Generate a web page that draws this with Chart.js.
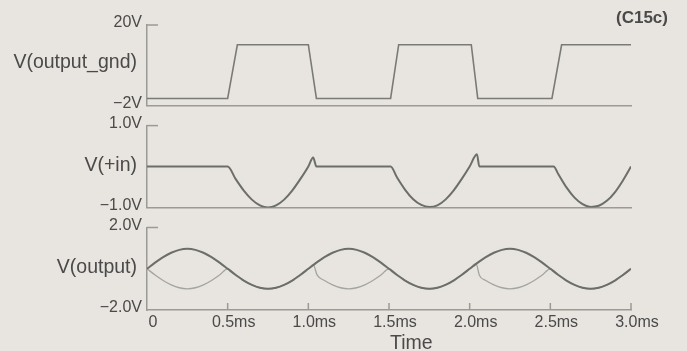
<!DOCTYPE html>
<html>
<head>
<meta charset="utf-8">
<script src="https://cdn.jsdelivr.net/npm/chart.js@4.4.1/dist/chart.umd.min.js"></script>
<style>
  body { margin: 0; background: #e8e4df; }
  #wrap { position: relative; width: 687px; height: 351px; overflow: hidden; background: #e8e4df;
          font-family: 'Liberation Sans', Arial, sans-serif; color: #4a4a4a; }
  canvas { position: absolute; left: 0; }
  .ylab { position: absolute; right: 550px; font-size: 19.5px; line-height: 22px; white-space: nowrap; }
  .note { position: absolute; left: 616px; top: 8px; font-size: 17px; font-weight: bold; line-height: 20px; }
  .xtitle { position: absolute; left: 390px; top: 331px; font-size: 19.5px; line-height: 22px; }
</style>
</head>
<body>
<div id="wrap">
  <canvas id="c1" width="687" height="120" style="top:0px"></canvas>
  <canvas id="c2" width="687" height="111" style="top:111px"></canvas>
  <canvas id="c3" width="687" height="138" style="top:213px"></canvas>
  <div class="ylab" style="top:50px">V(output_gnd)</div>
  <div class="ylab" style="top:153px">V(+in)</div>
  <div class="ylab" style="top:255px">V(output)</div>
  <div class="note">(C15c)</div>
  <div class="xtitle">Time</div>
</div>
<script>
// datos (tiempo en ms, tension en V)
const gndTime = [0, 0.50, 0.56, 1.00, 1.05, 1.51, 1.56, 2.01, 2.05, 2.51, 2.57, 3.00];
const gndVolt = [-0.1, -0.1, 14.6, 14.6, -0.1, -0.1, 14.6, 14.6, -0.1, -0.1, 14.6, 14.6];

const inTime = [0, 0.50, 0.55, 0.60, 0.65, 0.70, 0.75, 0.80, 0.85, 0.90, 0.95, 1.00, 1.03, 1.05,
                1.51, 1.55, 1.60, 1.65, 1.70, 1.75, 1.80, 1.85, 1.90, 1.95, 2.00, 2.045, 2.06,
                2.52, 2.55, 2.60, 2.65, 2.70, 2.75, 2.80, 2.85, 2.90, 2.95, 3.00];
const inVolt = [0, 0, -0.31, -0.59, -0.81, -0.95, -1.0, -0.95, -0.81, -0.59, -0.31, 0, 0.22, 0,
                0, -0.27, -0.57, -0.80, -0.94, -0.99, -0.95, -0.81, -0.59, -0.31, 0, 0.30, 0,
                0, -0.19, -0.51, -0.76, -0.92, -0.99, -0.96, -0.84, -0.63, -0.34, 0];

const outTime = [0, 0.05, 0.10, 0.15, 0.20, 0.25, 0.30, 0.35, 0.40, 0.45,
                 0.50, 0.55, 0.60, 0.65, 0.70, 0.75, 0.80, 0.85, 0.90, 0.95,
                 1.00, 1.05, 1.10, 1.15, 1.20, 1.25, 1.30, 1.35, 1.40, 1.45,
                 1.50, 1.55, 1.60, 1.65, 1.70, 1.75, 1.80, 1.85, 1.90, 1.95,
                 2.00, 2.05, 2.10, 2.15, 2.20, 2.25, 2.30, 2.35, 2.40, 2.45,
                 2.50, 2.55, 2.60, 2.65, 2.70, 2.75, 2.80, 2.85, 2.90, 2.95, 3.00];
const outVolt = [0, 0.30, 0.57, 0.78, 0.92, 0.97, 0.92, 0.78, 0.57, 0.30,
                 0, -0.30, -0.57, -0.78, -0.92, -0.97, -0.92, -0.78, -0.57, -0.30,
                 0, 0.30, 0.57, 0.78, 0.92, 0.97, 0.92, 0.78, 0.57, 0.30,
                 0, -0.30, -0.57, -0.78, -0.92, -0.97, -0.92, -0.78, -0.57, -0.30,
                 0, 0.30, 0.57, 0.78, 0.92, 0.97, 0.92, 0.78, 0.57, 0.30,
                 0, -0.30, -0.57, -0.78, -0.92, -0.97, -0.92, -0.78, -0.57, -0.30, 0];

// la otra traza (mas clara) de V(output)
const out2Time = [0, 0.05, 0.10, 0.15, 0.20, 0.25, 0.30, 0.35, 0.40, 0.45,
                  0.50, 0.55, 0.60, 0.65, 0.70, 0.75, 0.80, 0.85, 0.90, 0.95,
                  1.00, 1.03, 1.055, 1.10, 1.15, 1.20, 1.25, 1.30, 1.35, 1.40, 1.45,
                  1.50, 1.55, 1.60, 1.65, 1.70, 1.75, 1.80, 1.85, 1.90, 1.95,
                  2.00, 2.04, 2.06, 2.10, 2.15, 2.20, 2.25, 2.30, 2.35, 2.40, 2.45,
                  2.50, 2.55, 2.60, 2.65, 2.70, 2.75, 2.80, 2.85, 2.90, 2.95, 3.00];
const out2Volt = [0, -0.30, -0.57, -0.78, -0.92, -0.97, -0.92, -0.78, -0.57, -0.30,
                  0, -0.30, -0.57, -0.78, -0.92, -0.97, -0.92, -0.78, -0.57, -0.30,
                  0, 0.20, -0.31, -0.57, -0.78, -0.92, -0.97, -0.92, -0.78, -0.57, -0.30,
                  0, -0.30, -0.57, -0.78, -0.92, -0.97, -0.92, -0.78, -0.57, -0.30,
                  0, 0.25, -0.31, -0.57, -0.78, -0.92, -0.97, -0.92, -0.78, -0.57, -0.30,
                  0, -0.30, -0.57, -0.78, -0.92, -0.97, -0.92, -0.78, -0.57, -0.30, 0];

const timeTicks = ['0', '0.5ms', '1.0ms', '1.5ms', '2.0ms', '2.5ms', '3.0ms'];
const gndTicks = ['\u22122V', '20V'];
const inTicks = ['\u22121.0V', '1.0V'];
const outTicks = ['\u22122.0V', '2.0V'];

const axisColor = '#9a9a96';
const textColor = '#4a4a4a';
const fontFam = "'Liberation Sans', Arial, sans-serif";

function pts(xs, ys) {
  return xs.map((x, i) => ({ x: x, y: ys[i] }));
}

// marcas cortas hacia adentro (arriba del eje y, y en el eje x del ultimo panel)
const tickMarks = {
  id: 'tickMarks',
  afterDraw(chart, args, opts) {
    const { ctx, chartArea, scales } = chart;
    ctx.save();
    ctx.strokeStyle = axisColor;
    ctx.lineWidth = 1.5;
    ctx.beginPath();
    const yTop = scales.y.getPixelForValue(scales.y.max);
    ctx.moveTo(chartArea.left, yTop);
    ctx.lineTo(chartArea.left + 11, yTop);
    if (opts.xTicks) {
      scales.x.ticks.forEach(t => {
        if (t.value <= 0) return;
        const px = scales.x.getPixelForValue(t.value);
        ctx.moveTo(px, chartArea.bottom);
        ctx.lineTo(px, chartArea.bottom - 7);
      });
    }
    ctx.stroke();
    ctx.restore();
  }
};

function panel(id, datasets, yMin, yMax, yLabels, showX, pad) {
  return new Chart(document.getElementById(id), {
    type: 'line',
    data: { datasets: datasets },
    plugins: [tickMarks],
    options: {
      responsive: false,
      animation: false,
      events: [],
      layout: { padding: { left: 0, right: 56, top: pad.top, bottom: pad.bottom } },
      elements: { point: { radius: 0 } },
      plugins: {
        legend: { display: false },
        tooltip: { enabled: false },
        tickMarks: { xTicks: showX }
      },
      scales: {
        x: {
          type: 'linear',
          min: 0,
          max: 3,
          grid: { display: false, drawTicks: false, tickLength: 0 },
          border: { display: true, color: axisColor, width: 1.5 },
          ticks: {
            display: showX,
            stepSize: 0.5,
            autoSkip: false,
            maxRotation: 0,
            padding: 3,
            labelOffset: 6,
            color: textColor,
            font: { family: fontFam, size: 16 },
            callback: (v, i) => timeTicks[i]
          },
          afterFit: s => { s.height = showX ? 41 : 0; }
        },
        y: {
          type: 'linear',
          min: yMin,
          max: yMax,
          grid: { display: false, drawTicks: false, tickLength: 0 },
          border: { display: true, color: axisColor, width: 1.5 },
          afterBuildTicks: s => { s.ticks = [{ value: yMin }, { value: yMax }]; },
          ticks: {
            padding: 5,
            labelOffset: -2,
            color: textColor,
            font: { family: fontFam, size: 16 },
            callback: (v, i) => yLabels[i]
          },
          afterFit: s => { s.width = 147; }
        }
      }
    }
  });
}

panel('c1', [{
  data: pts(gndTime, gndVolt),
  borderColor: '#7a7b77',
  borderWidth: 1.6,
  tension: 0
}], -2, 20, gndTicks, false, { top: 25, bottom: 14 });

panel('c2', [{
  data: pts(inTime, inVolt),
  borderColor: '#6c6e69',
  borderWidth: 2,
  cubicInterpolationMode: 'monotone'
}], -1, 1, inTicks, false, { top: 14, bottom: 14 });

panel('c3', [{
  data: pts(outTime, outVolt),
  borderColor: '#6c6e69',
  borderWidth: 2,
  cubicInterpolationMode: 'monotone'
}, {
  data: pts(out2Time, out2Volt),
  borderColor: '#a3a59f',
  borderWidth: 1.3,
  cubicInterpolationMode: 'monotone'
}], -2, 2, outTicks, true, { top: 14, bottom: 0 });
</script>
</body>
</html>
